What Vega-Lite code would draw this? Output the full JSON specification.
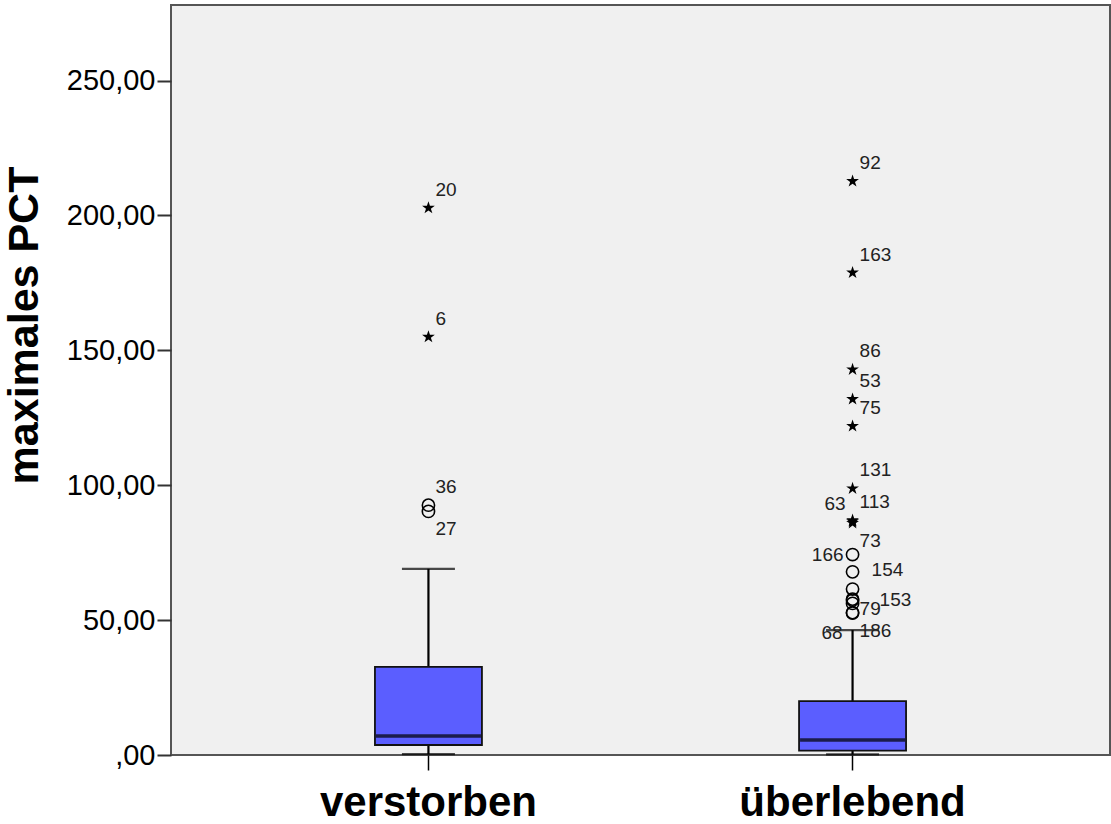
{
  "$schema": "https://vega.github.io/schema/vega-lite/v6.json",
  "width": 939,
  "height": 750,
  "autosize": {"type": "none"},
  "padding": {"left": 171, "top": 5, "right": 1, "bottom": 69},
  "background": "white",
  "config": {
    "font": "Liberation Sans",
    "view": {"fill": "#f0f0f0", "stroke": "#555555", "strokeWidth": 2},
    "axisY": {"grid": false, "domain": false}
  },
  "datasets": {
    "boxes": [
      {"group": "verstorben", "lower": 0.3, "q1": 3.7, "median": 7.0, "q3": 32.7, "upper": 69.0},
      {"group": "überlebend", "lower": 0.2, "q1": 1.6, "median": 5.6, "q3": 20.0, "upper": 46.3}
    ],
    "outliers": [
      {"group": "verstorben", "id": 20, "value": 202.8, "kind": "star"},
      {"group": "verstorben", "id": 6, "value": 155.0, "kind": "star"},
      {"group": "verstorben", "id": 36, "value": 92.6, "kind": "circle"},
      {"group": "verstorben", "id": 27, "value": 90.3, "kind": "circle"},
      {"group": "überlebend", "id": 92, "value": 212.7, "kind": "star"},
      {"group": "überlebend", "id": 163, "value": 178.8, "kind": "star"},
      {"group": "überlebend", "id": 86, "value": 142.9, "kind": "star"},
      {"group": "überlebend", "id": 53, "value": 131.9, "kind": "star"},
      {"group": "überlebend", "id": 75, "value": 121.9, "kind": "star"},
      {"group": "überlebend", "id": 131, "value": 98.8, "kind": "star"},
      {"group": "überlebend", "id": 113, "value": 87.0, "kind": "star"},
      {"group": "überlebend", "id": 63, "value": 86.6, "kind": "star"},
      {"group": "überlebend", "id": 73, "value": 86.0, "kind": "star"},
      {"group": "überlebend", "id": 166, "value": 74.3, "kind": "circle"},
      {"group": "überlebend", "id": 154, "value": 67.9, "kind": "circle"},
      {"group": "überlebend", "id": 0, "value": 61.5, "kind": "circle"},
      {"group": "überlebend", "id": 153, "value": 57.4, "kind": "circle"},
      {"group": "überlebend", "id": 1, "value": 57.8, "kind": "circle"},
      {"group": "überlebend", "id": 79, "value": 56.2, "kind": "circle"},
      {"group": "überlebend", "id": 68, "value": 52.6, "kind": "circle"},
      {"group": "überlebend", "id": 186, "value": 52.8, "kind": "circle"}
    ]
  },
  "encoding": {
    "x": {
      "field": "group",
      "type": "nominal",
      "scale": {"domain": ["verstorben", "überlebend"], "paddingInner": 0, "paddingOuter": 0.107},
      "axis": {
        "title": null,
        "labelAngle": 0,
        "labelFontSize": 42,
        "labelFontWeight": "bold",
        "labelColor": "black",
        "labelPadding": 12,
        "labelLimit": 0,
        "tickSize": 15,
        "tickColor": "black",
        "tickWidth": 1.5,
        "domain": false
      }
    }
  },
  "layer": [
    {
      "data": {"name": "boxes"},
      "mark": {"type": "rule", "color": "black", "strokeWidth": 2.2},
      "encoding": {
        "y": {
          "field": "lower",
          "type": "quantitative",
          "scale": {"domain": [0, 278], "nice": false, "zero": false},
          "axis": {
            "title": "maximales PCT",
            "values": [0, 50, 100, 150, 200, 250],
            "labelExpr": "datum.value == 0 ? ',00' : replace(format(datum.value, '.2f'), '.', ',')",
            "labelFontSize": 29,
            "labelColor": "black",
            "labelPadding": 2,
            "tickSize": 14,
            "tickColor": "#333333",
            "tickWidth": 2,
            "grid": false,
            "domain": false,
            "titleFontSize": 43,
            "titleFontWeight": "bold",
            "titleColor": "black",
            "titleAngle": 270,
            "titleBaseline": "top",
            "titleAlign": "center",
            "titleX": -168,
            "titleY": 320
          }
        },
        "y2": {"field": "upper"}
      }
    },
    {
      "data": {"name": "boxes"},
      "mark": {"type": "tick", "color": "black", "size": 53, "thickness": 2.2},
      "encoding": {"y": {"field": "lower", "type": "quantitative"}}
    },
    {
      "data": {"name": "boxes"},
      "mark": {"type": "tick", "color": "black", "size": 53, "thickness": 2.2},
      "encoding": {"y": {"field": "upper", "type": "quantitative"}}
    },
    {
      "data": {"name": "boxes"},
      "mark": {"type": "bar", "size": 107, "fill": "#5b5eff", "stroke": "#111111", "strokeWidth": 1.8},
      "encoding": {
        "y": {"field": "q1", "type": "quantitative"},
        "y2": {"field": "q3"}
      }
    },
    {
      "data": {"name": "boxes"},
      "mark": {"type": "tick", "color": "black", "size": 105, "thickness": 3.5},
      "encoding": {"y": {"field": "median", "type": "quantitative"}}
    },
    {
      "data": {"name": "outliers"},
      "transform": [{"filter": "datum.kind == 'circle'"}],
      "mark": {"type": "point", "shape": "circle", "filled": false, "stroke": "black", "strokeWidth": 1.6, "opacity": 1, "size": 150},
      "encoding": {"y": {"field": "value", "type": "quantitative"}}
    },
    {
      "data": {"name": "outliers"},
      "transform": [{"filter": "datum.kind == 'star'"}],
      "mark": {
        "type": "point",
        "shape": "M0,-1L0.2245,-0.309L0.951,-0.309L0.363,0.118L0.588,0.809L0,0.382L-0.588,0.809L-0.363,0.118L-0.951,-0.309L-0.2245,-0.309Z",
        "filled": true,
        "color": "black",
        "opacity": 1,
        "size": 180
      },
      "encoding": {"y": {"field": "value", "type": "quantitative"}}
    },
    {
      "data": {"name": "outliers"},
      "transform": [{"filter": "indexof([20, 6, 36, 92, 163, 86, 53, 75, 131, 113], datum.id) >= 0"}],
      "mark": {"type": "text", "align": "left", "baseline": "middle", "dx": 7, "dy": -18, "fontSize": 19, "color": "#222222"},
      "encoding": {"y": {"field": "value", "type": "quantitative"}, "text": {"field": "id"}}
    },
    {
      "data": {"name": "outliers"},
      "transform": [{"filter": "indexof([27, 73, 186], datum.id) >= 0"}],
      "mark": {"type": "text", "align": "left", "baseline": "middle", "dx": 7, "dy": 18, "fontSize": 19, "color": "#222222"},
      "encoding": {"y": {"field": "value", "type": "quantitative"}, "text": {"field": "id"}}
    },
    {
      "data": {"name": "outliers"},
      "transform": [{"filter": "datum.id == 166"}],
      "mark": {"type": "text", "align": "right", "baseline": "middle", "dx": -9, "dy": 0, "fontSize": 19, "color": "#222222"},
      "encoding": {"y": {"field": "value", "type": "quantitative"}, "text": {"field": "id"}}
    },
    {
      "data": {"name": "outliers"},
      "transform": [{"filter": "datum.id == 63"}],
      "mark": {"type": "text", "align": "right", "baseline": "middle", "dx": -7, "dy": -17, "fontSize": 19, "color": "#222222"},
      "encoding": {"y": {"field": "value", "type": "quantitative"}, "text": {"field": "id"}}
    },
    {
      "data": {"name": "outliers"},
      "transform": [{"filter": "datum.id == 68"}],
      "mark": {"type": "text", "align": "right", "baseline": "middle", "dx": -10, "dy": 20, "fontSize": 19, "color": "#222222"},
      "encoding": {"y": {"field": "value", "type": "quantitative"}, "text": {"field": "id"}}
    },
    {
      "data": {"name": "outliers"},
      "transform": [{"filter": "datum.id == 154"}],
      "mark": {"type": "text", "align": "left", "baseline": "middle", "dx": 19, "dy": -2, "fontSize": 19, "color": "#222222"},
      "encoding": {"y": {"field": "value", "type": "quantitative"}, "text": {"field": "id"}}
    },
    {
      "data": {"name": "outliers"},
      "transform": [{"filter": "datum.id == 153"}],
      "mark": {"type": "text", "align": "left", "baseline": "middle", "dx": 27, "dy": 0, "fontSize": 19, "color": "#222222"},
      "encoding": {"y": {"field": "value", "type": "quantitative"}, "text": {"field": "id"}}
    },
    {
      "data": {"name": "outliers"},
      "transform": [{"filter": "datum.id == 79"}],
      "mark": {"type": "text", "align": "left", "baseline": "middle", "dx": 7, "dy": 6, "fontSize": 19, "color": "#222222"},
      "encoding": {"y": {"field": "value", "type": "quantitative"}, "text": {"field": "id"}}
    }
  ]
}
